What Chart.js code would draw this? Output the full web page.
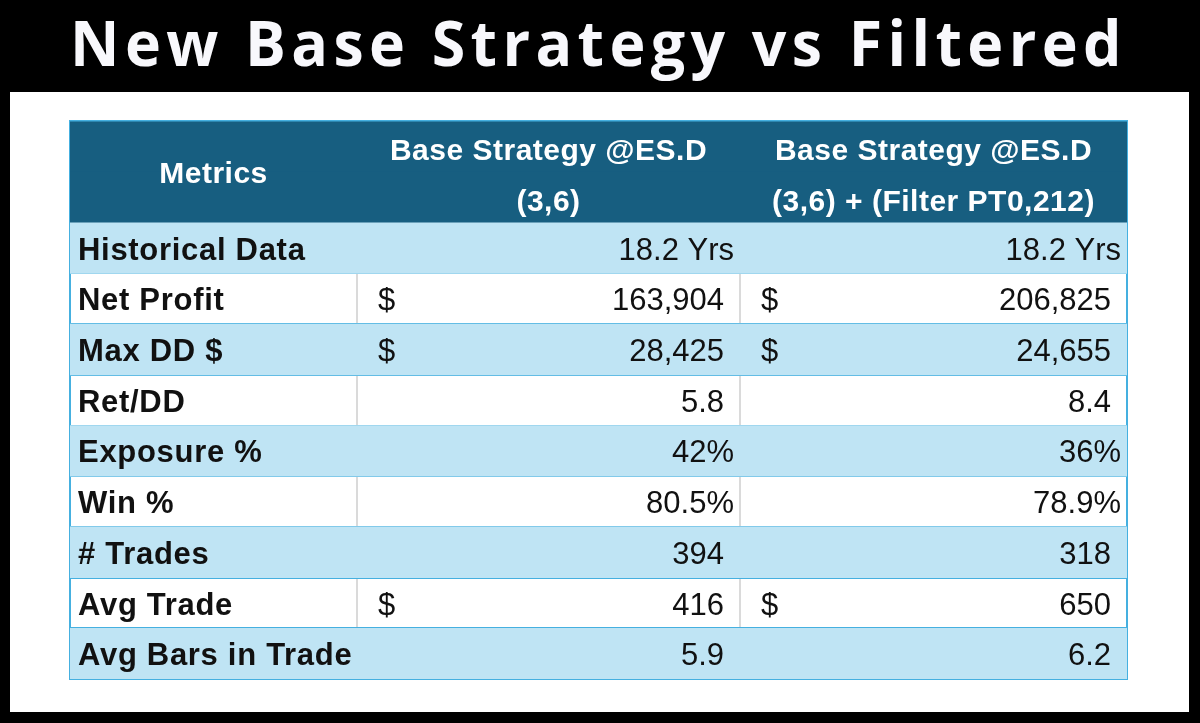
<!DOCTYPE html>
<html>
<head>
<meta charset="utf-8">
<title>New Base Strategy vs Filtered</title>
<script src="https://cdn.jsdelivr.net/npm/chart.js@4.4.1/dist/chart.umd.min.js"></script>
<style>
  html, body { margin: 0; padding: 0; background: #000; }
  #wrap { width: 1200px; height: 723px; }
</style>
</head>
<body>
<div id="wrap"><canvas id="TableChart" width="1200" height="723"></canvas></div>
<script>
// table content
const metrics = ['Historical Data', 'Net Profit', 'Max DD $', 'Ret/DD', 'Exposure %',
    'Win %', '# Trades', 'Avg Trade', 'Avg Bars in Trade'];
const baseStrategy = [18.2, 163904, 28425, 5.8, 42, 80.5, 394, 416, 5.9];
const filtered = [18.2, 206825, 24655, 8.4, 36, 78.9, 318, 650, 6.2];
const valueFormats = ['yrs', 'usd', 'usd', 'dec', 'pct', 'pct1', 'int', 'usd', 'dec'];
const headerMetrics = 'Metrics';
const headerBase = ['Base Strategy @ES.D', '(3,6)'];
const headerFiltered = ['Base Strategy @ES.D', '(3,6) + (Filter PT0,212)'];

// layout of the table (x axis runs in pixels of table width)
const colEdges = [0, 287, 670, 1057];
const headColor = '#175e80';
const stripeColor = '#bfe4f4';
const lineBlue = '#45b0e0';
const lineGray = '#dadada';

// header takes two row slots
const yLabels = ['head-1', 'head-2'].concat(metrics);
const rowSpans = yLabels.map((l, i) => {
    if (i < 2) return [colEdges[0], colEdges[3]];
    return (i - 2) % 2 === 0 ? [colEdges[0], colEdges[3]] : null;
});
const rowColors = yLabels.map((l, i) => i < 2 ? headColor : stripeColor);

function formatValue(v, fmt) {
    if (fmt === 'yrs') return v.toFixed(1) + ' Yrs';
    if (fmt === 'usd') return v.toLocaleString('en-US');
    if (fmt === 'dec') return v.toFixed(1);
    if (fmt === 'pct') return v + '%';
    if (fmt === 'pct1') return v.toFixed(1) + '%';
    return String(v);
}

const panelPlugin = {
    id: 'panel',
    beforeDraw(chart) {
        const ctx = chart.ctx;
        ctx.save();
        ctx.fillStyle = '#000';
        ctx.fillRect(0, 0, chart.width, chart.height);
        ctx.fillStyle = '#fff';
        ctx.fillRect(10, 92, 1179, 620);
        ctx.restore();
        // spacing used by the title text drawn next
        ctx.letterSpacing = '5.5px';
    }
};

const cellTextPlugin = {
    id: 'cellText',
    afterDraw(chart) {
        const ctx = chart.ctx;
        const x = chart.scales.x;
        const y = chart.scales.y;
        const px = v => x.getPixelForValue(v);
        ctx.save();
        ctx.textBaseline = 'middle';

        // header
        const headTop = y.getPixelForValue(0);
        const headBot = y.getPixelForValue(1);
        const headMid = (headTop + headBot) / 2;
        ctx.fillStyle = '#fff';
        ctx.font = 'bold 30px "Liberation Sans", Arial, sans-serif';
        ctx.letterSpacing = '0.5px';
        ctx.textAlign = 'center';
        ctx.fillText(headerMetrics, (px(colEdges[0]) + px(colEdges[1])) / 2, headMid + 3);
        [headerBase, headerFiltered].forEach((lines, c) => {
            const cx = (px(colEdges[c + 1]) + px(colEdges[c + 2])) / 2;
            ctx.fillText(lines[0], cx, headTop + 5);
            ctx.fillText(lines[1], cx, headBot + 5);
        });

        // rows
        metrics.forEach((m, i) => {
            const cy = y.getPixelForValue(i + 2) + 3;
            ctx.fillStyle = '#111';
            ctx.font = 'bold 31px "Liberation Sans", Arial, sans-serif';
            ctx.letterSpacing = '0.7px';
            ctx.textAlign = 'left';
            ctx.fillText(m, px(colEdges[0]) + 8, cy);

            ctx.font = '31px "Liberation Sans", Arial, sans-serif';
            ctx.letterSpacing = '0px';
            const fmt = valueFormats[i];
            const pad = (fmt === 'yrs' || fmt === 'pct' || fmt === 'pct1') ? 6 : 16;
            [baseStrategy, filtered].forEach((vals, c) => {
                const left = px(colEdges[c + 1]);
                const right = px(colEdges[c + 2]);
                if (fmt === 'usd') {
                    ctx.textAlign = 'left';
                    ctx.fillText('$', left + 21, cy);
                }
                ctx.textAlign = 'right';
                ctx.fillText(formatValue(vals[i], fmt), right - pad, cy);
            });
        });
        ctx.restore();
    }
};

const table_data = {
    labels: yLabels,
    datasets: [{
        label: 'Rows',
        data: rowSpans,
        backgroundColor: rowColors,
        borderWidth: 0,
        categoryPercentage: 1,
        barPercentage: 1,
        xAxisID: 'x',
        yAxisID: 'y'
    }]
};

const configTable = {
    type: 'bar',
    data: table_data,
    options: {
        responsive: false,
        animation: false,
        devicePixelRatio: 1,
        indexAxis: 'y',
        layout: {
            padding: { left: 70, right: 73, top: 0, bottom: 44 }
        },
        scales: {
            x: {
                type: 'linear',
                min: colEdges[0],
                max: colEdges[3],
                afterBuildTicks: axis => {
                    axis.ticks = colEdges.slice(1, -1).map(v => ({ value: v }));
                },
                ticks: { display: false },
                grid: { color: lineGray, lineWidth: 2, drawTicks: false },
                border: { display: false }
            },
            y: {
                type: 'category',
                z: 1,
                ticks: { display: false },
                grid: {
                    offset: true,
                    drawTicks: false,
                    lineWidth: 2,
                    color: ctx => (ctx.index === 1 || ctx.index === yLabels.length) ? 'rgba(0,0,0,0)' : lineBlue
                },
                border: { display: true, color: lineBlue, width: 2 }
            },
            y2: {
                type: 'category',
                position: 'right',
                z: 1,
                ticks: { display: false },
                grid: { display: false, drawTicks: false },
                border: { display: true, color: lineBlue, width: 2 }
            }
        },
        plugins: {
            legend: { display: false },
            tooltip: { enabled: false },
            title: {
                display: true,
                text: 'New Base Strategy vs Filtered',
                color: '#f8f8fc',
                font: { family: '"Open Sans", Lato, sans-serif', size: 62, weight: 'bold', lineHeight: 1.2 },
                padding: { top: 11, bottom: 36 }
            }
        }
    },
    plugins: [panelPlugin, cellTextPlugin]
};

const TableChart = new Chart(
    document.getElementById('TableChart'),
    configTable
);
</script>
</body>
</html>
